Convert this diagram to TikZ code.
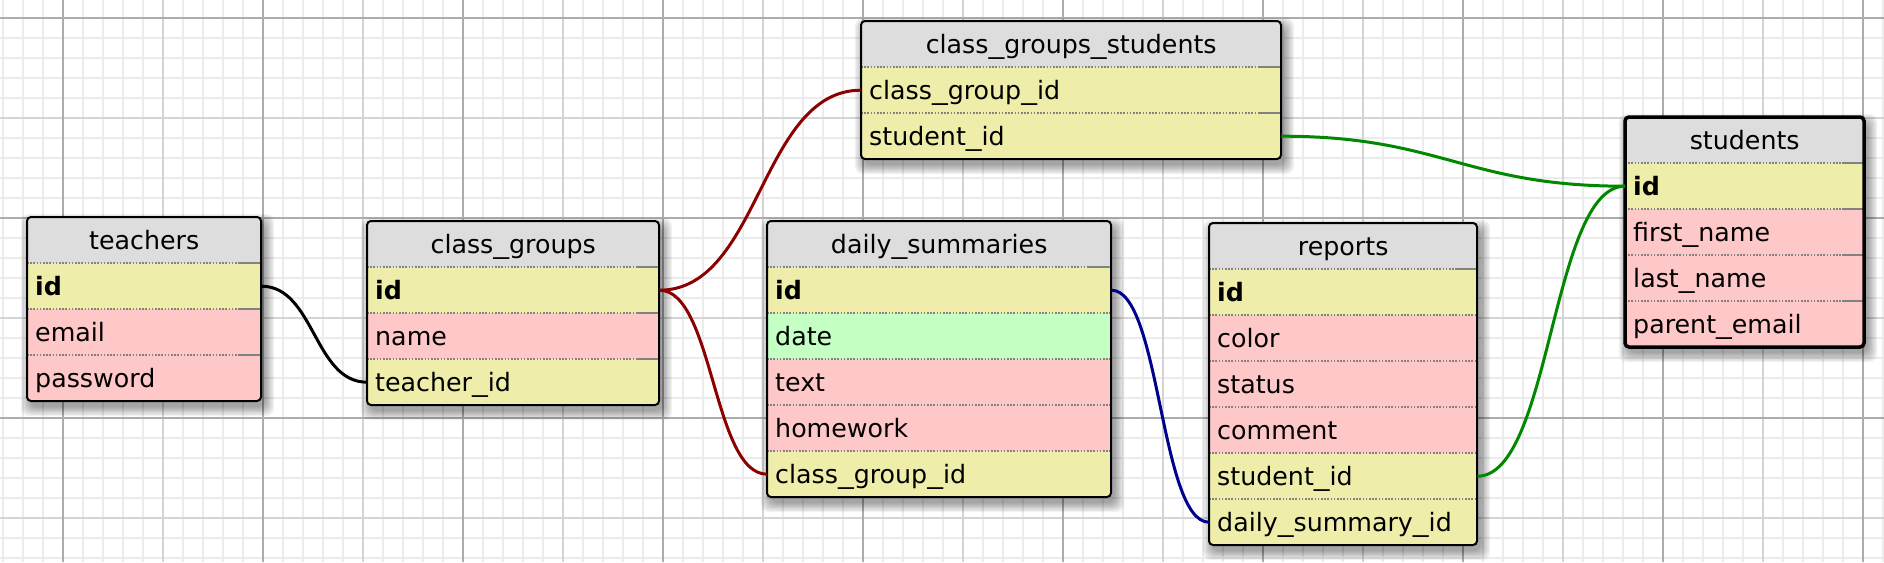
\documentclass[tikz,border=0pt]{standalone}
\usepackage{fontspec}
\setmainfont{DejaVu Sans}
\usepackage{graphicx}
\usetikzlibrary{calc}
\definecolor{hdrgray}{RGB}{221,221,221}
\definecolor{keyyel}{RGB}{238,238,170}
\definecolor{attpink}{RGB}{255,200,200}
\definecolor{attgreen}{RGB}{196,255,196}
\definecolor{sepgray}{RGB}{130,130,130}
\definecolor{gridminor}{RGB}{236,236,236}
\definecolor{gridmid}{RGB}{212,212,212}
\definecolor{gridmajor}{RGB}{172,172,172}
\definecolor{reldarkred}{RGB}{140,0,0}
\definecolor{relnavy}{RGB}{0,0,140}
\definecolor{relgreen}{RGB}{0,136,0}
\newcommand\us{\scalebox{1.246}[1]{\_}}
\tikzset{
  cellfont/.style={font=\fontsize{25.3pt}{30pt}\selectfont},
  hdr/.style={cellfont, fill=hdrgray, draw=none, inner sep=0pt, minimum height=46pt,
    text height=23pt, text depth=5pt, align=center},
  rowcell/.style={cellfont, draw=none, inner xsep=8pt, inner ysep=0pt, minimum height=46pt,
    text height=23pt, text depth=5pt, align=left},
  sepline/.style={sepgray, line width=1.8pt, dash pattern=on 1.6pt off 1.6pt},
  sepsolid/.style={sepgray, line width=1.8pt},
  tblborder/.style={black, line width=2pt, rounded corners=4pt},
  gminor/.style={gridminor, line width=1.6pt},
  gmid/.style={gridmid, line width=1.6pt},
  gmajor/.style={gridmajor, line width=1.6pt},
  rel/.style={line width=3pt},
}
% #1 prefix, #2 x, #3 y, #4 width, #5 title, #6 rows (colour/text), #7 rows count,
% #8 border extra style, #9 separators with a solid end
\newcommand\erdtable[9]{%
  \pgfmathsetmacro\tH{46*(#7+1)}%
  \pgfmathsetmacro\tW{#4-16}%
  \foreach \k in {0,...,7}{%
    \fill[black,opacity=0.05,rounded corners=8pt]
      (#2+3-\k*1.3,#3+6-\k*1.3) rectangle (#2+#4+4+\k*1.3,#3+\tH+6+\k*1.3);
  }%
  \begin{scope}
    \clip[rounded corners=4pt] (#2,#3) rectangle ++(#4,\tH);
    \fill[white] (#2,#3) rectangle ++(#4,\tH);
    \node[hdr, minimum width=#4pt, anchor=north west] (#1-h) at (#2,#3) {#5};
    \foreach \rc/\rt [count=\ri] in {#6}{%
      \node[rowcell, fill=\rc, text width=\tW pt, anchor=north west] (#1-\ri) at (#2,#3+46*\ri) {\rt};
    }%
  \end{scope}
  \foreach \ri in {1,...,#7}{\draw[sepline] (#2,#3+46*\ri) -- ++(#4,0);}%
  \foreach \ri in {#9}{\draw[sepsolid] (#2+#4-22,#3+46*\ri) -- ++(22,0);}%
  \draw[tblborder,#8] (#2,#3) rectangle ++(#4,\tH);
}
\begin{document}
\begin{tikzpicture}[x=1pt,y=-1pt]
\useasboundingbox (0,0) rectangle (1884,562);
\fill[white] (0,0) rectangle (1884,562);
% grid
\foreach \gx in {3,23,...,1883} \draw[gminor] (\gx,0) -- (\gx,562);
\foreach \gy in {18,38,...,558} \draw[gminor] (0,\gy) -- (1884,\gy);
\foreach \gx in {163,363,...,1763} \draw[gmid] (\gx,0) -- (\gx,562);
\foreach \gy in {118,318,518} \draw[gmid] (0,\gy) -- (1884,\gy);
\foreach \gx in {63,263,...,1863} \draw[gmajor] (\gx,0) -- (\gx,562);
\foreach \gy in {18,218,418} \draw[gmajor] (0,\gy) -- (1884,\gy);

% tables
\erdtable{teachers}{27}{217}{234}{teachers}
  {keyyel/\textbf{id}, attpink/email, attpink/password}{3}{}{1,2,3}
\erdtable{cgroups}{367}{221}{292}{class\us groups}
  {keyyel/\textbf{id}, attpink/name, keyyel/teacher\us id}{3}{}{1,2,3}
\erdtable{cgs}{861}{21}{420}{class\us groups\us students}
  {keyyel/class\us group\us id, keyyel/student\us id}{2}{}{1,2}
\erdtable{daily}{767}{221}{344}{daily\us summaries}
  {keyyel/\textbf{id}, attgreen/date, attpink/text, attpink/homework, keyyel/class\us group\us id}{5}{}{1}
\erdtable{reports}{1209}{223}{268}{reports}
  {keyyel/\textbf{id}, attpink/color, attpink/status, attpink/comment, keyyel/student\us id, keyyel/daily\us summary\us id}{6}{}{1}
\erdtable{students}{1625}{117}{239}{students}
  {keyyel/\textbf{id}, attpink/first\us name, attpink/last\us name, attpink/parent\us email}{4}{line width=3.5pt}{1,2,3,4}

% relations
\draw[rel, black] (teachers-1.east) .. controls +(53,0) and +(-53,0) .. (cgroups-3.west);
\draw[rel, reldarkred] (cgroups-1.east) .. controls +(101,0) and +(-101,0) .. (cgs-1.west);
\draw[rel, reldarkred] (cgroups-1.east) .. controls +(54,0) and +(-54,0) .. (daily-5.west);
\draw[rel, relnavy] (daily-1.east) .. controls +(49,0) and +(-49,0) .. (reports-6.west);
\draw[rel, relgreen] (cgs-2.east) .. controls +(160,0) and +(-160,0) .. (students-1.west);
\draw[rel, relgreen] (reports-5.east) .. controls +(74,0) and +(-74,0) .. (students-1.west);
\end{tikzpicture}
\end{document}
